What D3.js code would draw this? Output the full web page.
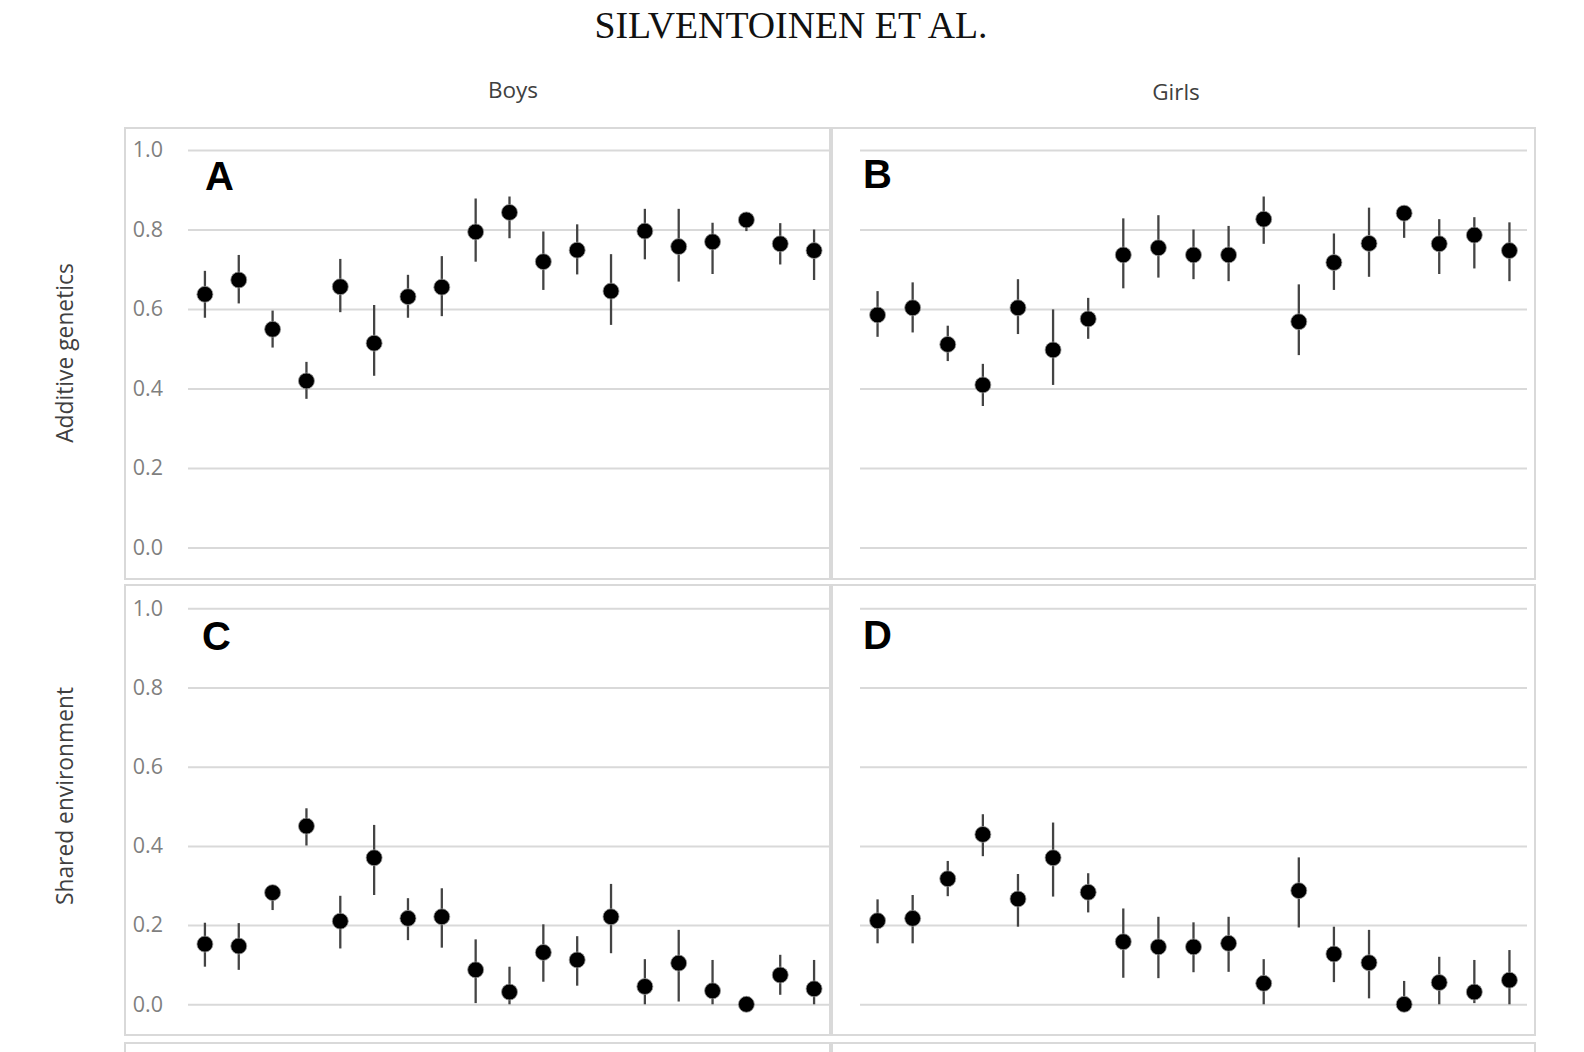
<!DOCTYPE html>
<html>
<head>
<meta charset="utf-8">
<script src="https://cdn.jsdelivr.net/npm/d3@7"></script>
<style>
  html, body { margin: 0; padding: 0; background: #fff; }
  svg { display: block; }
</style>
</head>
<body>
<svg id="chart" width="1584" height="1052"></svg>
<script>
// ---------- DATA ----------
const categories = ["1","2","3","4","5","6","7","8","9","10","11","12","13","14","15","16","17","18","19"];
const yTicks = [0, 0.2, 0.4, 0.6, 0.8, 1.0];

// A: Boys, additive genetics
const boysA    = [0.637,0.673,0.549,0.419,0.656,0.514,0.631,0.655,0.794,0.843,0.719,0.748,0.645,0.796,0.757,0.769,0.824,0.764,0.747];
const boysALo  = [0.578,0.614,0.503,0.374,0.592,0.432,0.578,0.582,0.719,0.778,0.648,0.687,0.560,0.725,0.669,0.688,0.796,0.712,0.673];
const boysAHi  = [0.696,0.736,0.596,0.467,0.726,0.610,0.686,0.733,0.878,0.883,0.795,0.813,0.738,0.852,0.852,0.817,0.836,0.816,0.800];

// B: Girls, additive genetics
const girlsA   = [0.585,0.603,0.511,0.409,0.603,0.497,0.575,0.736,0.754,0.736,0.736,0.826,0.568,0.717,0.765,0.841,0.764,0.786,0.747];
const girlsALo = [0.530,0.541,0.469,0.356,0.537,0.409,0.525,0.652,0.679,0.675,0.670,0.764,0.484,0.648,0.681,0.779,0.688,0.702,0.670];
const girlsAHi = [0.645,0.667,0.558,0.462,0.675,0.599,0.628,0.828,0.836,0.800,0.809,0.883,0.662,0.790,0.855,0.860,0.826,0.831,0.818];

// C: Boys, shared environment
const boysC    = [0.152,0.147,0.282,0.450,0.210,0.370,0.217,0.221,0.087,0.031,0.131,0.112,0.221,0.045,0.104,0.034,0.000,0.074,0.039];
const boysCLo  = [0.095,0.087,0.238,0.401,0.141,0.276,0.162,0.143,0.003,0.000,0.057,0.047,0.129,0.000,0.007,0.000,0.000,0.024,0.000];
const boysCHi  = [0.206,0.205,0.300,0.495,0.274,0.453,0.268,0.293,0.164,0.095,0.202,0.172,0.304,0.114,0.188,0.112,0.020,0.125,0.112];

// D: Girls, shared environment
const girlsC   = [0.211,0.217,0.317,0.429,0.266,0.370,0.283,0.158,0.145,0.145,0.154,0.053,0.287,0.127,0.105,0.000,0.055,0.031,0.061];
const girlsCLo = [0.154,0.154,0.273,0.374,0.196,0.272,0.232,0.067,0.066,0.081,0.082,0.000,0.194,0.056,0.015,0.000,0.000,0.003,0.000];
const girlsCHi = [0.265,0.276,0.362,0.480,0.329,0.459,0.331,0.242,0.221,0.207,0.221,0.114,0.371,0.196,0.188,0.059,0.120,0.112,0.137];

const pageTitle = "SILVENTOINEN ET AL.";
const columnTitles = ["Boys", "Girls"];
const rowTitles = ["Additive genetics", "Shared environment"];
const panelLetters = ["A", "B", "C", "D"];

// ---------- LAYOUT ----------
const svg = d3.select("#chart");
const gridColor = "#d9d9d9";
const sansFont = "'Open Sans', 'Noto Sans', sans-serif";

const panels = [
  { letter: panelLetters[0], est: boysA,  lo: boysALo,  hi: boysAHi,  box: [125, 128, 705, 451], xr: [188, 831], yr: [547.5, 150], labels: true,  lp: [205, 190] },
  { letter: panelLetters[1], est: girlsA, lo: girlsALo, hi: girlsAHi, box: [832, 128, 703, 451], xr: [860, 1527], yr: [547.5, 150], labels: false, lp: [863, 188] },
  { letter: panelLetters[2], est: boysC,  lo: boysCLo,  hi: boysCHi,  box: [125, 585, 705, 450], xr: [188, 831], yr: [1004.3, 608.3], labels: true,  lp: [202, 650] },
  { letter: panelLetters[3], est: girlsC, lo: girlsCLo, hi: girlsCHi, box: [832, 585, 703, 450], xr: [860, 1527], yr: [1004.3, 608.3], labels: false, lp: [863, 649] }
];

// page title
svg.append("text")
  .attr("x", 791).attr("y", 38)
  .attr("text-anchor", "middle")
  .attr("font-family", "'Liberation Serif', 'Times New Roman', serif")
  .attr("font-size", 37.8)
  .attr("fill", "#111")
  .text(pageTitle);

// column titles
[[513, 98], [1176, 100]].forEach((p, i) => {
  svg.append("text")
    .attr("x", p[0]).attr("y", p[1])
    .attr("text-anchor", "middle")
    .attr("font-family", sansFont)
    .attr("font-size", 22.5)
    .attr("fill", "#404040")
    .text(columnTitles[i]);
});

// row titles
[[64, 353], [64, 796]].forEach((p, i) => {
  svg.append("text")
    .attr("transform", `translate(${p[0]},${p[1]}) rotate(-90)`)
    .attr("text-anchor", "middle")
    .attr("dominant-baseline", "central")
    .attr("font-family", sansFont)
    .attr("font-size", 22.8)
    .attr("fill", "#404040")
    .text(rowTitles[i]);
});

// third row (cut off at the bottom of the page)
[[125, 1043, 705, 400], [832, 1043, 703, 400]].forEach(b => {
  svg.append("rect")
    .attr("x", b[0]).attr("y", b[1]).attr("width", b[2]).attr("height", b[3])
    .attr("fill", "none").attr("stroke", gridColor).attr("stroke-width", 2);
});

panels.forEach(p => {
  const g = svg.append("g");
  g.append("rect")
    .attr("x", p.box[0]).attr("y", p.box[1]).attr("width", p.box[2]).attr("height", p.box[3])
    .attr("fill", "#fff").attr("stroke", gridColor).attr("stroke-width", 2);

  const x = d3.scalePoint().domain(categories).range(p.xr).padding(0.5);
  const y = d3.scaleLinear().domain([0, 1]).range(p.yr);

  const axis = d3.axisLeft(y)
    .tickValues(yTicks)
    .tickSize(-(p.xr[1] - p.xr[0]))
    .tickPadding(25)
    .tickFormat(p.labels ? d3.format(".1f") : () => "");

  const ax = g.append("g")
    .attr("transform", `translate(${p.xr[0]},0)`)
    .call(axis);
  ax.select(".domain").remove();
  ax.selectAll(".tick line").attr("stroke", gridColor).attr("stroke-width", 2);
  ax.selectAll(".tick text")
    .attr("fill", "#7f7f7f")
    .attr("font-family", sansFont)
    .attr("font-size", 21.5);

  // panel letter
  g.append("text")
    .attr("x", p.lp[0]).attr("y", p.lp[1])
    .attr("font-family", "'Liberation Sans', Arial, sans-serif")
    .attr("font-weight", "bold")
    .attr("font-size", 40)
    .attr("fill", "#000")
    .text(p.letter);

  const data = categories.map((c, i) => ({ c, v: p.est[i], lo: p.lo[i], hi: p.hi[i] }));

  g.selectAll("line.err").data(data).join("line")
    .attr("class", "err")
    .attr("x1", d => x(d.c)).attr("x2", d => x(d.c))
    .attr("y1", d => y(d.lo)).attr("y2", d => y(d.hi))
    .attr("stroke", "#444").attr("stroke-width", 2.3);

  g.selectAll("circle.pt").data(data).join("circle")
    .attr("class", "pt")
    .attr("cx", d => x(d.c)).attr("cy", d => y(d.v))
    .attr("r", 8)
    .attr("fill", "#000")
    .attr("stroke", "#9a9a9a").attr("stroke-width", 0.8);
});
</script>
</body>
</html>
